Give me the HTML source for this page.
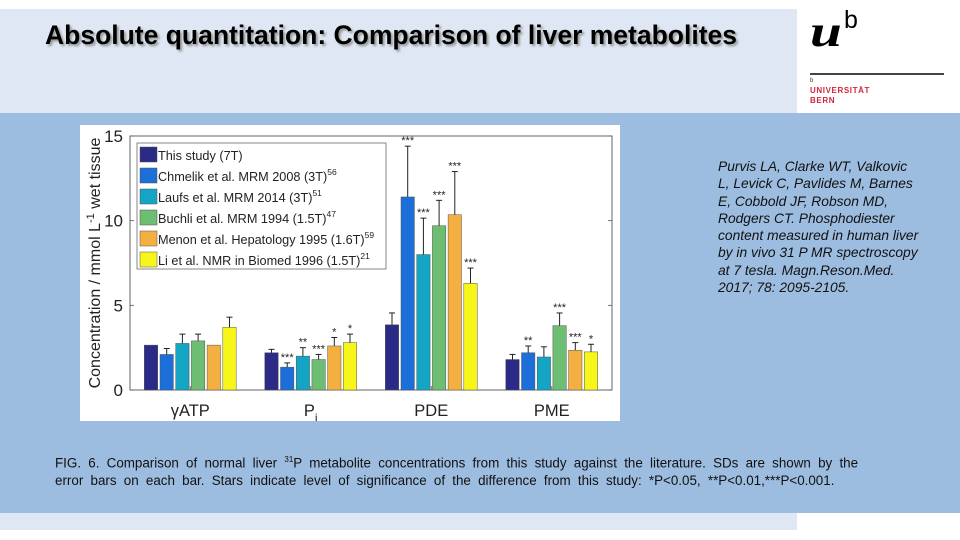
<!DOCTYPE html>
<html><head><meta charset="utf-8">
<style>
body{margin:0;width:960px;height:540px;position:relative;background:#fff;font-family:"Liberation Sans",sans-serif;overflow:hidden}
.abs{position:absolute}
</style></head>
<body>
<div class="abs" style="left:0;top:9px;width:797px;height:104px;background:#dee7f3"></div>
<div class="abs" style="left:45px;top:20px;font-size:26.5px;font-weight:bold;color:#000;text-shadow:2px 2px 2px #999;white-space:nowrap">Absolute quantitation: Comparison of liver metabolites</div>
<div class="abs" style="left:0;top:113px;width:960px;height:400px;background:#9dbde0"></div>
<div class="abs" style="left:0;top:513px;width:797px;height:17px;background:#dee7f3"></div>
<div class="abs" style="left:798px;top:0;width:162px;height:112px;background:#fff">
  <div class="abs" style="left:12px;top:10px;font-family:'Liberation Serif',serif;font-style:italic;font-weight:bold;font-size:44px;line-height:44px;transform:scaleX(1.3);transform-origin:left top">u</div>
  <div class="abs" style="left:46px;top:8px;font-family:'Liberation Sans',sans-serif;font-size:25px;line-height:25px">b</div>
  <div class="abs" style="left:12px;top:73px;width:134px;height:2px;background:#444"></div>
  <div class="abs" style="left:12px;top:78px;font-size:6px;color:#333">b</div>
  <div class="abs" style="left:12px;top:86px;font-size:8px;font-weight:bold;color:#d0263a;line-height:10px;letter-spacing:0.6px">UNIVERSITÄT<br>BERN</div>
</div>
<div class="abs" style="left:718px;top:158px;font-size:13.8px;font-style:italic;line-height:17.3px;color:#111;white-space:nowrap">Purvis LA, Clarke WT, Valkovic<br>L, Levick C, Pavlides M, Barnes<br>E, Cobbold JF, Robson MD,<br>Rodgers CT. Phosphodiester<br>content measured in human liver<br>by in vivo 31 P MR spectroscopy<br>at 7 tesla. Magn.Reson.Med.<br>2017; 78: 2095-2105.</div>
<div class="abs" style="left:55px;top:451px;font-size:13.4px;line-height:18px;color:#111;white-space:nowrap;word-spacing:3.5px">FIG. 6. Comparison of normal liver <sup style="font-size:8px">31</sup>P metabolite concentrations from this study against the literature. SDs are shown by the<br>error bars on each bar. Stars indicate level of significance of the difference from this study: *P&lt;0.05, **P&lt;0.01,***P&lt;0.001.</div>

<svg class="abs" style="left:80px;top:125px" width="540" height="296" viewBox="0 0 540 296">
  <rect width="540" height="296" fill="#fff"/>
  <g id="plot"></g>
</svg>
<script>
const categories=["γATP","Pi","PDE","PME"];
const seriesNames=["This study (7T)","Chmelik et al. MRM 2008 (3T)","Laufs et al. MRM 2014 (3T)","Buchli et al. MRM 1994 (1.5T)","Menon et al. Hepatology 1995 (1.6T)","Li et al. NMR in Biomed 1996 (1.5T)"];
const seriesRefs=["","56","51","47","59","21"];
const thisStudy=[2.65,2.2,3.85,1.8];
const chmelik=[2.1,1.35,11.4,2.2];
const laufs=[2.75,2.0,8.0,1.95];
const buchli=[2.9,1.8,9.7,3.8];
const menon=[2.65,2.6,10.35,2.35];
const li=[3.7,2.8,6.3,2.25];
const errThis=[0,0.2,0.7,0.3];
const errChmelik=[0.35,0.25,3.0,0.4];
const errLaufs=[0.55,0.5,2.15,0.6];
const errBuchli=[0.4,0.3,1.5,0.75];
const errMenon=[0,0.5,2.55,0.45];
const errLi=[0.6,0.5,0.9,0.45];
const starsThis=["","","",""];
const starsChmelik=["","***","***","**"];
const starsLaufs=["","**","***",""];
const starsBuchli=["","***","***","***"];
const starsMenon=["","*","***","***"];
const starsLi=["","*","***","*"];
const yTicks=[0,5,10,15];
const colors=["#2b2a87","#1c6fd8","#14a5c4","#6dbd72","#f3b040","#f8f51a"];

const NS="http://www.w3.org/2000/svg";
const g=document.getElementById('plot');
const X0=50,X1=532,Y0=265,Y1=11,YMAX=15;
const y=v=>Y0-(v/YMAX)*(Y0-Y1);
const groupW=(X1-X0)/categories.length;
const x=(ci,si)=>X0+groupW*(ci+0.5)+(si-2.5)*15.7;
function el(t,a,p){const e=document.createElementNS(NS,t);for(const k in a)e.setAttribute(k,a[k]);(p||g).appendChild(e);return e;}
const vals=[thisStudy,chmelik,laufs,buchli,menon,li];
const errs=[errThis,errChmelik,errLaufs,errBuchli,errMenon,errLi];
const stars=[starsThis,starsChmelik,starsLaufs,starsBuchli,starsMenon,starsLi];
const box=el('rect',{x:X0,y:Y1,width:X1-X0,height:Y0-Y1,fill:'none',stroke:'#555','stroke-width':0.9});


yTicks.forEach(t=>{
  el('line',{x1:X0,x2:X0+4,y1:y(t),y2:y(t),stroke:'#555','stroke-width':0.8});
  el('line',{x1:X1,x2:X1-4,y1:y(t),y2:y(t),stroke:'#555','stroke-width':0.8});
  const tl=el('text',{x:X0-7,y:y(t)+6,'text-anchor':'end','font-size':17,fill:'#222'});
  tl.textContent=t;
  
  
});
categories.forEach((c,ci)=>{
  const cx=X0+groupW*(ci+0.5);
  el('line',{x1:cx,x2:cx,y1:Y0,y2:Y0-4,stroke:'#555','stroke-width':0.8});
  const tl=el('text',{x:cx,y:Y0+26,'text-anchor':'middle','font-size':16.5,fill:'#222'});
  if(c==="Pi"){tl.textContent="P";const s=el('tspan',{dy:6,'font-size':12},tl);s.textContent="i";}
  else tl.textContent=c;
  
  
  vals.forEach((arr,si)=>{
    const v=arr[ci],bx=x(ci,si)-6.7;
    const r=el('rect',{x:bx,y:y(v),width:13.4,height:Y0-y(v),fill:colors[si],stroke:'#555','stroke-width':0.5});
    
    
    const e=errs[si][ci];
    if(e>0){
      const mx=x(ci,si);
      el('line',{x1:mx,x2:mx,y1:y(v),y2:y(v+e),stroke:'#222','stroke-width':1});
      el('line',{x1:mx-3,x2:mx+3,y1:y(v+e),y2:y(v+e),stroke:'#222','stroke-width':1});
    }
    const st=stars[si][ci];
    if(st){
      const s=el('text',{x:x(ci,si),y:y(v+e)-2,'text-anchor':'middle','font-size':11,fill:'#222'});
      s.textContent=st;
      
      
    }
  });
});
const yt=el('text',{transform:`translate(20,${(Y0+Y1)/2}) rotate(-90)`,'text-anchor':'middle','font-size':16,fill:'#222'});
yt.innerHTML='Concentration / mmol L<tspan dy="-6" font-size="11">-1</tspan><tspan dy="6"> wet tissue</tspan>';


const lg=el('g',{});


el('rect',{x:57,y:18,width:249,height:126,fill:'#fff',stroke:'#555','stroke-width':0.7},lg);
seriesNames.forEach((n,i)=>{
  const ly=22+i*21;
  const item=el('g',{},lg);
  
  
  el('rect',{x:60,y:ly,width:17,height:15,fill:colors[i],stroke:'#555','stroke-width':0.5},item);
  const t=el('text',{x:78,y:ly+13,'font-size':12.7,fill:'#222'},item);
  t.textContent=n;
  if(seriesRefs[i]){const s=el('tspan',{dy:-6,'font-size':8.5},t);s.textContent=seriesRefs[i];}
});
</script>
</body></html>
